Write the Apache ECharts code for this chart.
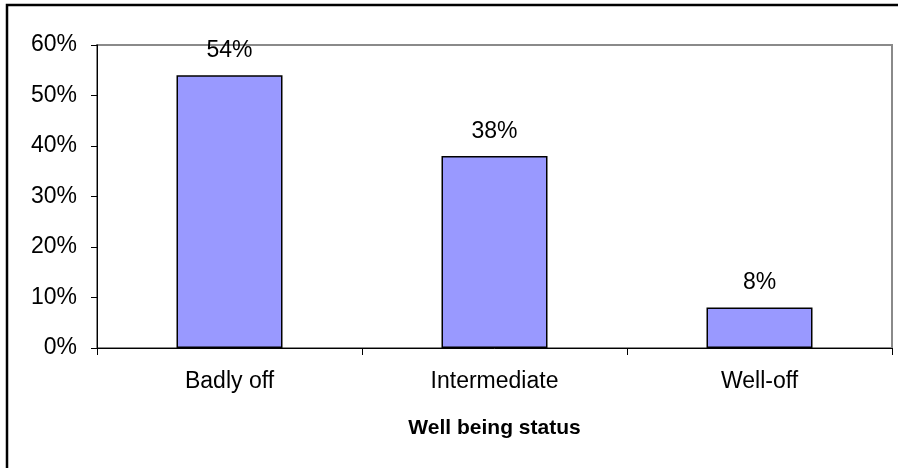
<!DOCTYPE html>
<html>
<head>
<meta charset="utf-8">
<script src="https://cdn.jsdelivr.net/npm/echarts@6/dist/echarts.min.js"></script>
<style>
  html, body { margin: 0; padding: 0; background: #fff; }
  #chart { width: 898px; height: 468px; }
</style>
</head>
<body>
<div id="chart"></div>
<script>
// Share of households by well-being status
const categories = ['Badly off', 'Intermediate', 'Well-off'];
const shares = [54, 38, 8];
const yTicks = [0, 10, 20, 30, 40, 50, 60];
const xTitle = 'Well being status';

const FONT = '"Liberation Sans", Arial, sans-serif';

const chart = echarts.init(document.getElementById('chart'), null, { renderer: 'canvas' });

chart.setOption({
  animation: false,
  backgroundColor: '#ffffff',
  graphic: [{
    type: 'rect',
    shape: { x: 7, y: 5, width: 1000, height: 1000 },
    style: { fill: 'none', stroke: '#000', lineWidth: 2.5 },
    silent: true,
    z: 100
  }],
  grid: {
    left: 97, right: 6, top: 45, bottom: 120,
    show: true,
    borderColor: '#8a8a8a',
    borderWidth: 2,
    backgroundColor: 'transparent'
  },
  xAxis: {
    type: 'category',
    data: categories,
    name: xTitle,
    nameLocation: 'middle',
    nameGap: 70,
    nameTextStyle: { fontFamily: FONT, fontSize: 21, fontWeight: 'bold', color: '#000' },
    axisLine: { show: true, lineStyle: { color: '#000', width: 1 } },
    axisTick: { show: true, length: 7, lineStyle: { color: '#000' }, alignWithLabel: false },
    axisLabel: { fontFamily: FONT, fontSize: 23, color: '#000', margin: 22 },
    splitLine: { show: false }
  },
  yAxis: {
    type: 'value',
    min: yTicks[0],
    max: yTicks[yTicks.length - 1],
    interval: yTicks[1] - yTicks[0],
    axisLine: { show: true, lineStyle: { color: '#000', width: 1 } },
    axisTick: { show: true, length: 6, lineStyle: { color: '#000' } },
    axisLabel: { fontFamily: FONT, fontSize: 23, color: '#000', margin: 20, formatter: v => v + '%' },
    splitLine: { show: false }
  },
  series: [{
    type: 'bar',
    data: shares,
    barWidth: '40%',
    itemStyle: { color: '#9999ff', borderColor: '#000', borderWidth: 1.5 },
    label: {
      show: true,
      position: 'top',
      distance: 13,
      fontFamily: FONT,
      fontSize: 23,
      color: '#000',
      formatter: p => p.value + '%'
    }
  }]
});
</script>
</body>
</html>
